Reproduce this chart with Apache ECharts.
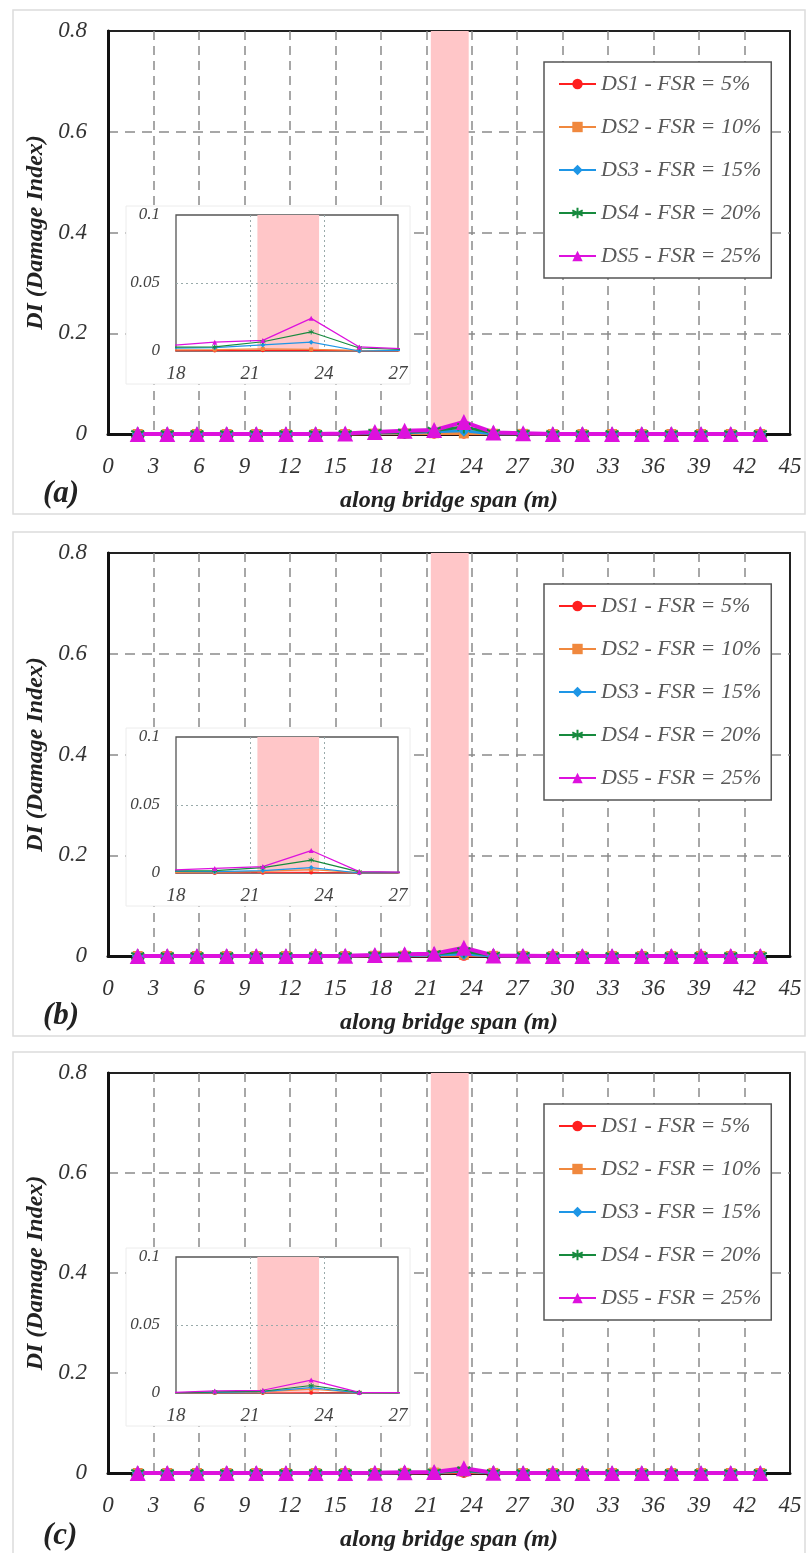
<!DOCTYPE html>
<html><head><meta charset="utf-8">
<script src="https://cdn.jsdelivr.net/npm/echarts@6/dist/echarts.min.js"></script>
<style>html,body{margin:0;padding:0;background:#fff}#c{width:810px;height:1553px}</style>
</head><body><div id="c"></div>
<script>
// ---- data ----
const spanX = [1.96, 3.91, 5.87, 7.83, 9.78, 11.74, 13.70, 15.65, 17.61, 19.57, 21.52, 23.48, 25.43, 27.39, 29.35, 31.30, 33.26, 35.22, 37.17, 39.13, 41.09, 43.04];
const seriesNames = ['DS1 - FSR = 5%', 'DS2 - FSR = 10%', 'DS3 - FSR = 15%', 'DS4 - FSR = 20%', 'DS5 - FSR = 25%'];
const panelLabels = ['(a)', '(b)', '(c)'];
const damageZone = [21.3, 23.8];
const mainXRange = [0, 45, 3];
const mainYRange = [0, 0.8, 0.2];
const insetXRange = [18, 27, 3];
const insetYRange = [0, 0.1, 0.05];

// panel (a)
const a_DS1 = [0,0,0,0,0,0,0,0,0,0.0003,0.0005,0.0007,0,0,0,0,0,0,0,0,0,0];
const a_DS2 = [0,0,0,0,0,0,0,0,0.0008,0.0010,0.0015,0.0012,0.0005,0.0003,0,0,0,0,0,0,0,0];
const a_DS3 = [0,0,0,0,0,0,0,0,0.0020,0.0025,0.0045,0.0065,0,0.0005,0,0,0,0,0,0,0,0];
const a_DS4 = [0,0,0,0,0,0,0,0,0.0028,0.0030,0.0068,0.0140,0.0022,0.0010,0,0,0,0,0,0,0,0];
const a_DS5 = [0,0,0,0,0,0,0,0.0010,0.0038,0.0065,0.0078,0.0240,0.0030,0.0015,0,0,0,0,0,0,0,0];
// panel (b)
const b_DS1 = [0,0,0,0,0,0,0,0,0,0,0.0002,0.0003,0,0,0,0,0,0,0,0,0,0];
const b_DS2 = [0,0,0,0,0,0,0,0,0.0005,0.0006,0.0012,0.0025,0.0003,0.0002,0,0,0,0,0,0,0,0];
const b_DS3 = [0,0,0,0,0,0,0,0,0.0012,0.0010,0.0018,0.0040,0,0.0003,0,0,0,0,0,0,0,0];
const b_DS4 = [0,0,0,0,0,0,0,0,0.0015,0.0018,0.0040,0.0095,0.0008,0.0005,0,0,0,0,0,0,0,0];
const b_DS5 = [0,0,0,0,0,0,0,0.0005,0.0020,0.0034,0.0047,0.0165,0.0010,0.0006,0,0,0,0,0,0,0,0];
// panel (c)
const c_DS1 = [0,0,0,0,0,0,0,0,0,0,0,0.0002,0,0,0,0,0,0,0,0,0,0];
const c_DS2 = [0,0,0,0,0,0,0,0,0,0.0003,0.0008,0.0028,0.0002,0,0,0,0,0,0,0,0,0];
const c_DS3 = [0,0,0,0,0,0,0,0,0,0.0005,0.0010,0.0040,0,0,0,0,0,0,0,0,0,0];
const c_DS4 = [0,0,0,0,0,0,0,0,0,0.0008,0.0013,0.0055,0.0004,0,0,0,0,0,0,0,0,0];
const c_DS5 = [0,0,0,0,0,0,0,0,0.0003,0.0015,0.0020,0.0095,0.0005,0.0002,0,0,0,0,0,0,0,0];

const panels = [
  [a_DS1, a_DS2, a_DS3, a_DS4, a_DS5],
  [b_DS1, b_DS2, b_DS3, b_DS4, b_DS5],
  [c_DS1, c_DS2, c_DS3, c_DS4, c_DS5]
];

// ---- styles ----
const FONT = 'Liberation Serif';
const colors = ['#ff1f1f', '#f0883e', '#1e96e6', '#178a3e', '#dd11dd'];
const asterisk = 'path://M10,0L10,20M1.3,5L18.7,15M1.3,15L18.7,5';
const symbols = ['circle', 'rect', 'diamond', asterisk, 'triangle'];
const mainSymSize = [10, 10, 12, 13, 16];
const insetSymSize = [4, 4, 5, 5, 5];
const PANEL_TOP = [31, 553, 1073];

const grids = [], xAxes = [], yAxes = [], series = [], legends = [], titles = [], graphics = [];
const zip = vals => vals.map((v, i) => [spanX[i], v]);

panels.forEach((P, p) => {
  const T = PANEL_TOP[p];
  graphics.push({type: 'rect', z: 0, shape: {x: 13, y: T - 21, width: 792, height: p === 2 ? 560 : 504},
    style: {fill: 'none', stroke: '#dcdcdc', lineWidth: 1.5}});
  graphics.push({type: 'rect', z: 5, shape: {x: 126, y: T + 175, width: 284, height: 178},
    style: {fill: '#ffffff', stroke: '#ececec', lineWidth: 1}});

  const gm = grids.length;
  grids.push({left: 108, top: T, width: 682, height: 403, show: true, borderColor: '#222', borderWidth: 2, backgroundColor: 'transparent'});
  xAxes.push({
    gridIndex: gm, type: 'value', min: mainXRange[0], max: mainXRange[1], interval: mainXRange[2],
    axisLine: {show: true, onZero: false, lineStyle: {color: '#111', width: 3}},
    axisTick: {show: false},
    axisLabel: {margin: 21, fontFamily: FONT, fontStyle: 'italic', fontSize: 23, color: '#333'},
    splitLine: {show: true, showMinLine: false, showMaxLine: false, lineStyle: {type: [9, 6], color: '#8a8a8a', width: 1.5}},
    name: 'along bridge span (m)', nameLocation: 'middle', nameGap: 55,
    nameTextStyle: {fontFamily: FONT, fontStyle: 'italic', fontWeight: 'bold', fontSize: 24, color: '#222'}
  });
  yAxes.push({
    gridIndex: gm, type: 'value', min: mainYRange[0], max: mainYRange[1], interval: mainYRange[2],
    axisLine: {show: true, lineStyle: {color: '#111', width: 3}},
    axisTick: {show: false},
    axisLabel: {margin: 21, fontFamily: FONT, fontStyle: 'italic', fontSize: 23, color: '#333'},
    splitLine: {show: true, showMinLine: false, showMaxLine: false, lineStyle: {type: [10, 7], color: '#8a8a8a', width: 1.5}},
    name: 'DI (Damage Index)', nameLocation: 'middle', nameGap: 56,
    nameTextStyle: {fontFamily: FONT, fontStyle: 'italic', fontWeight: 'bold', fontSize: 24, color: '#222'}
  });
  P.forEach((vals, k) => {
    const s = {
      type: 'line', name: seriesNames[k], xAxisIndex: gm, yAxisIndex: gm, z: 2,
      data: zip(vals), symbol: symbols[k], symbolSize: mainSymSize[k], showAllSymbol: true,
      lineStyle: {color: colors[k], width: k === 4 ? 4 : 3},
      itemStyle: {color: colors[k], borderColor: colors[k], borderWidth: k === 3 ? 2 : 0},
      animation: false
    };
    if (k === 0) s.markArea = {silent: true, itemStyle: {color: '#ffc6c8'}, data: [[{xAxis: damageZone[0]}, {xAxis: damageZone[1]}]]};
    series.push(s);
  });

  const gi = grids.length;
  grids.push({left: 176, top: T + 184, width: 222, height: 136, show: true, borderColor: '#555', borderWidth: 1.3, backgroundColor: '#fff', z: 6});
  xAxes.push({
    gridIndex: gi, type: 'value', min: insetXRange[0], max: insetXRange[1], interval: insetXRange[2], z: 8,
    axisLine: {show: false}, axisTick: {show: false},
    axisLabel: {margin: 13, fontFamily: FONT, fontStyle: 'italic', fontSize: 19, color: '#444'},
    splitLine: {show: true, showMinLine: false, showMaxLine: false, lineStyle: {type: [2, 3], color: '#9aa', width: 1}}
  });
  yAxes.push({
    gridIndex: gi, type: 'value', min: insetYRange[0], max: insetYRange[1], interval: insetYRange[2], z: 8,
    axisLine: {show: false}, axisTick: {show: false},
    axisLabel: {margin: 16, fontFamily: FONT, fontStyle: 'italic', fontSize: 17, color: '#444'},
    splitLine: {show: true, showMinLine: false, showMaxLine: false, lineStyle: {type: [2, 3], color: '#9aa', width: 1}}
  });
  P.forEach((vals, k) => {
    const s = {
      type: 'line', name: seriesNames[k], xAxisIndex: gi, yAxisIndex: gi, z: 9,
      data: zip(vals), symbol: symbols[k], symbolSize: insetSymSize[k], showAllSymbol: true,
      lineStyle: {color: colors[k], width: 1.2},
      itemStyle: {color: colors[k], borderColor: colors[k], borderWidth: k === 3 ? 1 : 0},
      animation: false
    };
    if (k === 0) s.markArea = {silent: true, z: 7, itemStyle: {color: '#ffc6c8'}, data: [[{xAxis: damageZone[0]}, {xAxis: damageZone[1]}]]};
    series.push(s);
  });

  legends.push({
    left: 544, top: T + 31, orient: 'vertical', selectedMode: false,
    data: seriesNames, itemWidth: 37, itemHeight: 13, itemGap: 21,
    padding: [11, 10, 11, 14], borderColor: '#555', borderWidth: 1.5, backgroundColor: '#fff',
    textStyle: {fontFamily: FONT, fontStyle: 'italic', fontSize: 22, color: '#595959'}
  });
  titles.push({text: panelLabels[p], left: 38, top: T + 442,
    textStyle: {fontFamily: FONT, fontStyle: 'italic', fontWeight: 'bold', fontSize: 31, color: '#222'}});
});

const chart = echarts.init(document.getElementById('c'), null, {renderer: 'canvas'});
chart.setOption({
  animation: false,
  backgroundColor: '#fff',
  title: titles,
  legend: legends,
  grid: grids,
  xAxis: xAxes,
  yAxis: yAxes,
  series: series,
  graphic: graphics
});
</script>
</body></html>
